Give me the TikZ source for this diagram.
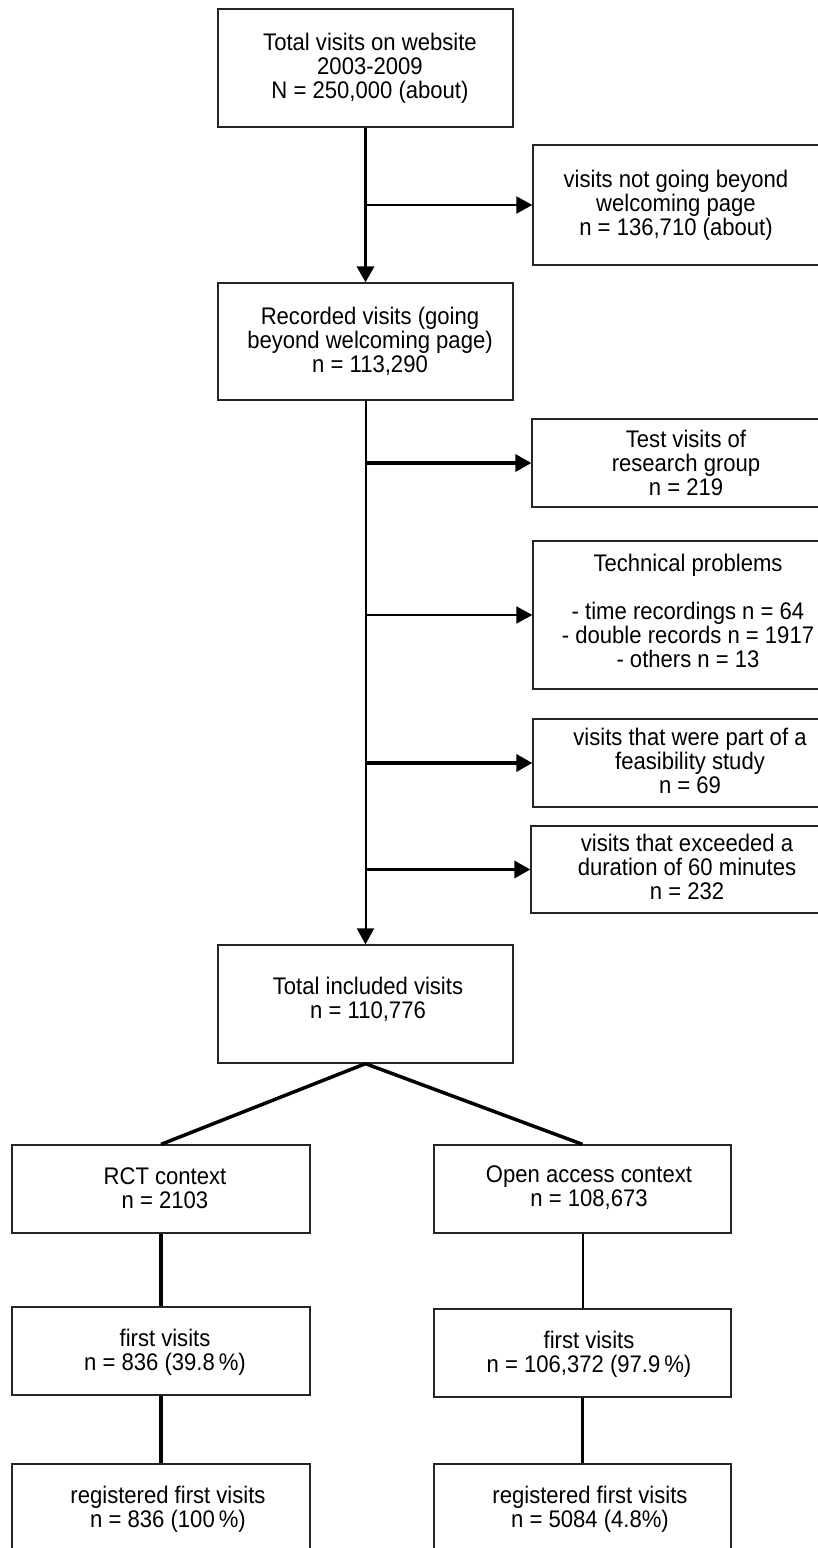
\documentclass[tikz,border=0pt]{standalone}
\usepackage{fontspec}
\setmainfont{Liberation Sans}[FakeStretch=0.92]
\usetikzlibrary{arrows.meta}
\begin{document}
\begin{tikzpicture}[x=1pt,y=-1pt,
  box/.style={draw=black!85,line width=1.3pt,rectangle,inner sep=0pt},
  txt/.style={align=center,inner sep=0pt,font=\fontsize{24}{24}\selectfont},
  thickln/.style={line width=3.5pt},
  thinln/.style={line width=2pt},
  arr/.style={-{Triangle[length=16pt,width=17pt]}},
]
\useasboundingbox (0,0) rectangle (818,1548);
\clip (0,0) rectangle (818,1548);
% boxes
\node[box,minimum width=295pt,minimum height=118pt] (b1) at (365.5,68) {};
\node[box,minimum width=297pt,minimum height=120pt] (b2) at (681.5,205) {};
\node[box,minimum width=295pt,minimum height=117pt] (b3) at (365.5,341.5) {};
\node[box,minimum width=308pt,minimum height=88pt] (b4) at (686,463) {};
\node[box,minimum width=307pt,minimum height=148pt] (b5) at (686.5,615) {};
\node[box,minimum width=307pt,minimum height=88pt] (b6) at (686.5,763) {};
\node[box,minimum width=309pt,minimum height=87pt] (b7) at (685.5,869.5) {};
\node[box,minimum width=295pt,minimum height=118pt] (b8) at (365.5,1004) {};
\node[box,minimum width=298pt,minimum height=88pt] (b9) at (161,1189) {};
\node[box,minimum width=297pt,minimum height=88pt] (b10) at (582.5,1189) {};
\node[box,minimum width=298pt,minimum height=88pt] (b11) at (161,1351) {};
\node[box,minimum width=297pt,minimum height=88pt] (b12) at (582.5,1353) {};
\node[box,minimum width=298pt,minimum height=110pt] (b13) at (161,1519) {};
\node[box,minimum width=297pt,minimum height=110pt] (b14) at (582.5,1519) {};
% texts
\node[txt] (t1) at (370,68) {Total visits on website\\2003-2009\\N = 250,000 (about)};
\node[txt] (t2) at (676,205) {visits not going beyond\\welcoming page\\n = 136,710 (about)};
\node[txt] (t3) at (370,341) {Recorded visits (going\\beyond welcoming page)\\n = 113,290};
\node[txt] (t4) at (686,463) {Test visits of\\research group\\n = 219};
\node[txt] (t5) at (688,611) {Technical problems\\[24pt]- time recordings n = 64\\- double records n = 1917\\- others n = 13};
\node[txt] (t6) at (690,761) {visits that were part of a\\feasibility study\\n = 69};
\node[txt] (t7) at (687,867) {visits that exceeded a\\duration of 60 minutes\\n = 232};
\node[txt] (t8) at (368,999) {Total included visits\\n = 110,776};
\node[txt] (t9) at (165,1188) {RCT context\\n = 2103};
\node[txt] (t10) at (589,1188) {Open access context\\n = 108,673};
\node[txt] (t11) at (165,1352) {first visits\\n = 836 (39.8\,\%)};
\node[txt] (t12) at (589,1354) {first visits\\n = 106,372 (97.9\,\%)};
\node[txt] (t13) at (168,1509) {registered first visits\\n = 836 (100\,\%)};
\node[txt] (t14) at (590,1509) {registered first visits\\n = 5084 (4.8\%)};
% connectors
\draw[thickln,arr] (b1.south) -- (b3.north);
\draw[thinln,arr] (b1.south |- b2.west) -- (b2.west);
\draw[thinln,arr] (b3.south) -- (b8.north);
\draw[thickln,arr] (b3.south |- b4.west) -- (b4.west);
\draw[thinln,arr] (b3.south |- b5.west) -- (b5.west);
\draw[thickln,arr] (b3.south |- b6.west) -- (b6.west);
\draw[thickln,arr] (b3.south |- b7.west) -- (b7.west);
\draw[thickln] (b8.south) -- (b9.north);
\draw[thickln] (b8.south) -- (b10.north);
\draw[thickln] (b9.south) -- (b11.north);
\draw[thickln] (b11.south) -- (b13.north);
\draw[thinln] (b10.south) -- (b12.north);
\draw[thickln] (b12.south) -- (b14.north);
\end{tikzpicture}
\end{document}
